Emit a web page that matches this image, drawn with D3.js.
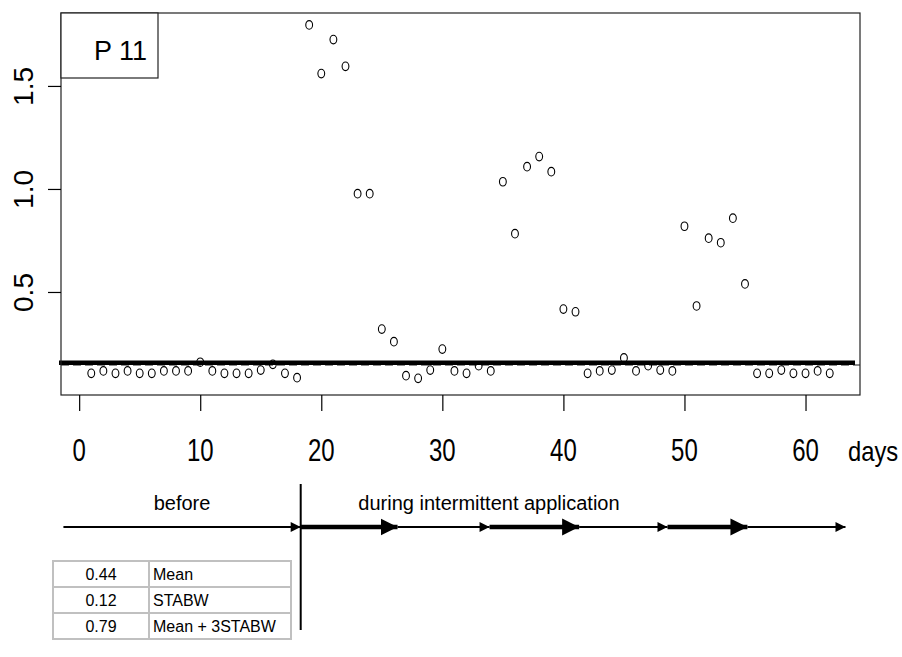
<!DOCTYPE html>
<html>
<head>
<meta charset="utf-8">
<script src="https://cdn.jsdelivr.net/npm/d3@7"></script>
<style>
  body { margin: 0; background: #fff; }
  svg text { font-family: "Liberation Sans", Arial, sans-serif; fill: #000; }
</style>
</head>
<body>
<svg id="chart" width="902" height="657"></svg>
<script>
// measured values (days 1..62)
const days = [1,2,3,4,5,6,7,8,9,10,11,12,13,14,15,16,17,18,19,20,21,22,23,24,25,26,27,28,29,30,31,
  32,33,34,35,36,37,38,39,40,41,42,43,44,45,46,47,48,49,50,51,52,53,54,55,56,57,58,59,60,61,62];
const values = [0.105,0.117,0.105,0.117,0.105,0.105,0.117,0.117,0.117,0.159,0.117,0.105,0.105,0.105,0.121,0.149,
  0.105,0.084,1.796,1.560,1.725,1.595,0.977,0.977,0.320,0.259,0.094,0.081,0.121,0.223,0.117,0.105,0.142,0.117,
  1.035,0.783,1.108,1.157,1.084,0.417,0.404,0.105,0.117,0.121,0.180,0.117,0.142,0.121,0.117,
  0.819,0.432,0.761,0.739,0.858,0.539,0.105,0.105,0.121,0.105,0.105,0.117,0.105];

const xTicks = [0, 10, 20, 30, 40, 50, 60];
const yTicks = [0.5, 1.0, 1.5];
const thickLevel = 0.157;
const dashLevel = 0.146;

// timeline below the axis (in days)
const phaseStart = -1.3;
const phaseSwitch = 18.3;
const segments = [
  {from: 18.3, to: 26.3, thick: true},
  {from: 26.3, to: 33.9, thick: false},
  {from: 33.9, to: 41.3, thick: true},
  {from: 41.3, to: 48.6, thick: false},
  {from: 48.6, to: 55.2, thick: true},
  {from: 55.2, to: 63.3, thick: false}
];

const statValues = ["0.44", "0.12", "0.79"];
const statLabels = ["Mean", "STABW", "Mean + 3STABW"];

const svg = d3.select("#chart");
const box = {left: 61, right: 860, top: 13, bottom: 395};

const x = d3.scaleLinear().domain([-1.5, 64.5]).range([box.left, box.right]);
const y = d3.scaleLinear().domain([0, 1.854]).range([box.bottom, box.top]);

// threshold lines
svg.append("line")
  .attr("x1", box.left).attr("x2", box.right)
  .attr("y1", y(dashLevel)).attr("y2", y(dashLevel))
  .attr("stroke", "#666").attr("stroke-width", 1.5).attr("stroke-dasharray", "8,4");
svg.append("line")
  .attr("x1", box.left - 2).attr("x2", box.right - 5)
  .attr("y1", y(thickLevel)).attr("y2", y(thickLevel))
  .attr("stroke", "#000").attr("stroke-width", 4.5);

// points
svg.append("g").selectAll("ellipse")
  .data(days)
  .enter().append("ellipse")
    .attr("cx", d => x(d))
    .attr("cy", (d, i) => y(values[i]))
    .attr("rx", 3.4).attr("ry", 4.3)
    .attr("fill", "none").attr("stroke", "#000").attr("stroke-width", 1.1);

// frame
svg.append("rect")
  .attr("x", box.left).attr("y", box.top)
  .attr("width", box.right - box.left).attr("height", box.bottom - box.top)
  .attr("fill", "none").attr("stroke", "#222").attr("stroke-width", 1.2);

// y axis
const yAxis = svg.append("g").attr("transform", "translate(" + box.left + ",0)")
  .call(d3.axisLeft(y).tickValues(yTicks).tickSize(13).tickFormat(d3.format(".1f")));
yAxis.select(".domain").remove();
yAxis.selectAll(".tick line").attr("stroke", "#000").attr("stroke-width", 1.2);
yAxis.selectAll(".tick text")
  .attr("x", 0).attr("dy", 0)
  .attr("transform", "translate(-28,0) rotate(-90)")
  .attr("text-anchor", "middle")
  .style("font-size", "28px");

// x axis ticks
const xAxis = svg.append("g").attr("transform", "translate(0," + box.bottom + ")")
  .call(d3.axisBottom(x).tickValues(xTicks).tickSize(16).tickFormat(""));
xAxis.select(".domain").remove();
xAxis.selectAll(".tick line").attr("stroke", "#000").attr("stroke-width", 1.2);

// x labels (narrow)
svg.append("g").selectAll("text")
  .data(xTicks)
  .enter().append("text")
    .attr("transform", d => "translate(" + x(d) + ",461) scale(0.75,1)")
    .attr("text-anchor", "middle")
    .style("font-size", "32px")
    .text(d => d);
svg.append("text")
  .attr("transform", "translate(848,461) scale(0.85,1)")
  .style("font-size", "28px")
  .text("days");

// P11 label box
svg.append("rect")
  .attr("x", box.left).attr("y", box.top)
  .attr("width", 97).attr("height", 65)
  .attr("fill", "#fff").attr("stroke", "#222").attr("stroke-width", 1.2);
svg.append("text")
  .attr("x", 147).attr("y", 60)
  .attr("text-anchor", "end")
  .style("font-size", "27px")
  .text("P 11");

// timeline
svg.append("defs").call(defs => {
  defs.append("marker").attr("id", "small")
    .attr("viewBox", "0 0 10 10").attr("refX", 10).attr("refY", 5)
    .attr("markerUnits", "userSpaceOnUse").attr("markerWidth", 11).attr("markerHeight", 10)
    .attr("orient", "auto")
    .append("path").attr("d", "M0,0L10,5L0,10Z").attr("fill", "#000");
  defs.append("marker").attr("id", "big")
    .attr("viewBox", "0 0 10 10").attr("refX", 10).attr("refY", 5)
    .attr("markerUnits", "userSpaceOnUse").attr("markerWidth", 17).attr("markerHeight", 18)
    .attr("orient", "auto")
    .append("path").attr("d", "M0,0L10,5L0,10Z").attr("fill", "#000");
});

const lineY = 527;
svg.append("line")
  .attr("x1", x(phaseStart)).attr("x2", x(phaseSwitch))
  .attr("y1", lineY).attr("y2", lineY)
  .attr("stroke", "#000").attr("stroke-width", 2)
  .attr("marker-end", "url(#small)");

svg.append("g").selectAll("line")
  .data(segments)
  .enter().append("line")
    .attr("x1", d => x(d.from)).attr("x2", d => x(d.to))
    .attr("y1", lineY).attr("y2", lineY)
    .attr("stroke", "#000")
    .attr("stroke-width", d => d.thick ? 4.5 : 2)
    .attr("marker-end", d => d.thick ? "url(#big)" : "url(#small)");

svg.append("line")
  .attr("x1", x(phaseSwitch)).attr("x2", x(phaseSwitch))
  .attr("y1", 484).attr("y2", 630)
  .attr("stroke", "#000").attr("stroke-width", 2);

svg.append("text")
  .attr("x", (x(phaseStart) + x(phaseSwitch)) / 2).attr("y", 510)
  .attr("text-anchor", "middle").style("font-size", "20px")
  .text("before");
svg.append("text")
  .attr("x", 489).attr("y", 510)
  .attr("text-anchor", "middle").style("font-size", "20px")
  .text("during intermittent application");

// stats table
const tbl = {left: 53, mid: 149, right: 291, top: 561, rowH: 26};
const rows = svg.append("g").selectAll("g")
  .data(statValues)
  .enter().append("g")
    .attr("transform", (d, i) => "translate(0," + (tbl.top + i * tbl.rowH) + ")");
rows.append("rect")
  .attr("x", tbl.left).attr("y", 0)
  .attr("width", tbl.mid - tbl.left).attr("height", tbl.rowH)
  .attr("fill", "#fff").attr("stroke", "#c0c0c0").attr("stroke-width", 2);
rows.append("rect")
  .attr("x", tbl.mid).attr("y", 0)
  .attr("width", tbl.right - tbl.mid).attr("height", tbl.rowH)
  .attr("fill", "#fff").attr("stroke", "#c0c0c0").attr("stroke-width", 2);
rows.append("text")
  .attr("x", (tbl.left + tbl.mid) / 2).attr("y", 19)
  .attr("text-anchor", "middle").style("font-size", "16px")
  .text(d => d);
rows.append("text")
  .attr("x", tbl.mid + 4).attr("y", 19)
  .style("font-size", "16px")
  .text((d, i) => statLabels[i]);
</script>
</body>
</html>
